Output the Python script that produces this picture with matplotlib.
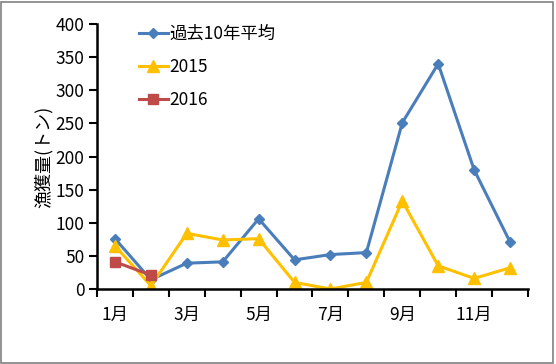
import matplotlib.pyplot as plt
import matplotlib.patches as patches
import numpy as np

plt.rcParams['font.family'] = ['Noto Sans CJK JP', 'DejaVu Sans']

months = ["1月", "2月", "3月", "4月", "5月", "6月", "7月", "8月", "9月", "10月", "11月", "12月"]
avg10 = [76, 14, 39, 41, 106, 44, 52, 55, 251, 340, 180, 71]
y2015 = [65, 5, 84, 74, 76, 10, 0, 10, 133, 35, 16, 32]
y2016 = [41, 21]

fig = plt.figure(figsize=(5.56, 3.64), dpi=100)
ax = fig.add_axes([0.1745, 0.206, 0.7751, 0.728])

x = np.arange(len(months))
ax.plot(x, avg10, "-D", color="#4A7EBB", lw=2.2, ms=5.5, label="過去10年平均")
ax.plot(x, y2015, "-^", color="#FFC000", lw=2.2, ms=8, label="2015")
ax.plot(x[:len(y2016)], y2016, "-s", color="#BE4B48", lw=2.2, ms=6.5, label="2016")

ax.set_xlim(-0.5, 11.5)
ax.set_ylim(0, 400)
ax.set_yticks(np.arange(0, 401, 50))
ax.set_xticks(x[::2])
ax.set_xticklabels(months[::2])
ax.set_xticks(np.arange(-0.5, 12, 1), minor=True)
ax.tick_params(axis='x', which='major', length=0, pad=12, labelsize=12.5)
ax.tick_params(axis='x', which='minor', length=6, width=1.5, direction='out')
ax.tick_params(axis='y', length=6, width=1.5, direction='out', labelsize=12.5, pad=3)

for s in ['top', 'right']:
    ax.spines[s].set_visible(False)
for s in ['left', 'bottom']:
    ax.spines[s].set_linewidth(1.8)

ax.set_ylabel("漁獲量(トン)", fontsize=13, labelpad=2)

ax.legend(frameon=False, loc='upper left', bbox_to_anchor=(0.06, 1.055),
          fontsize=12.5, handlelength=1.7, handletextpad=0.1, labelspacing=0.85)

fig.patches.append(patches.Rectangle((0.002, 0.004), 0.993, 0.99, transform=fig.transFigure,
                                     fill=False, edgecolor="#808080", lw=1.2))

plt.savefig('out.png', dpi=100)
